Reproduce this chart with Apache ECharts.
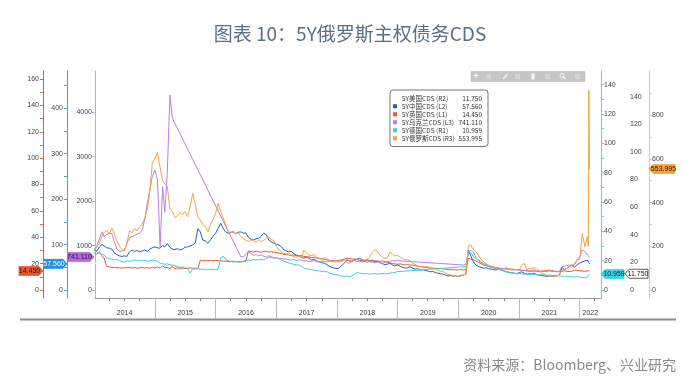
<!DOCTYPE html>
<html>
<head>
<meta charset="utf-8">
<script src="https://cdn.jsdelivr.net/npm/echarts@6.0.0/dist/echarts.min.js"></script>
<style>
html,body{margin:0;padding:0;background:#ffffff;}
#chart{width:700px;height:386px;}
</style>
</head>
<body>
<div id="chart"></div>
<script>
const _ = null;

// ---------- categories (semi-monthly observation dates) ----------
const dates = [];
for (let y = 2014; y <= 2022; y++) {
  for (let m = 1; m <= 12; m++) {
    if (y === 2022 && m > 2) break;
    const mm = String(m).padStart(2, '0');
    dates.push(y + '-' + mm + '-01', y + '-' + mm + '-16');
  }
}
dates.push('2022-02-22', '2022-02-25', '2022-03-01');

// ---------- series values ----------
const usVals = [
  20,19,18,19,18,17,18,17,16,17,16,17,16,17,18,17,18,17,18,19,18,19,20,19,
  19,18,19,18,17,18,17,18,17,18,19,18,19,20,19,20,21,22,21,20,21,22,21,22,
  22,23,24,23,22,23,22,21,22,23,22,24,25,24,25,26,25,26,27,26,27,28,27,26,
  26,25,27,26,25,26,24,25,26,27,28,27,26,25,24,23,24,23,22,21,20,21,20,19,
  19,18,17,18,17,16,17,16,17,18,17,18,17,16,17,18,17,16,17,18,19,20,19,18,
  18,17,16,17,16,15,16,15,14,15,16,15,14,15,14,13,14,13,14,13,12,13,12,13,
  13,14,13,15,25,24,22,20,19,18,17,16,17,16,15,16,15,14,15,16,15,14,13,14,
  13,12,13,12,11,12,11,12,11,10,11,10,11,10,11,12,13,12,13,14,13,12,13,12,
  12,13,12,13,12.5,12,11.75
];
const chinaVals = [
  88,86,95,100,97,93,92,90,82,78,75,74,75,74,84,88,85,87,84,86,88,85,90,93,
  95,93,92,98,95,102,94,90,89,91,88,90,94,95,97,99,104,135,128,110,108,103,110,118,
  125,135,147,135,128,125,127,128,124,127,128,125,126,116,112,110,113,114,118,125,122,110,106,103,
  101,99,95,88,86,84,85,80,77,75,72,70,72,70,66,68,64,62,60,59,56,52,50,48,
  47,49,55,60,66,64,63,66,68,70,66,63,67,64,66,62,64,60,58,56,57,59,55,53,
  55,52,50,48,49,51,48,46,47,44,45,43,42,40,41,38,37,36,35,33,31,32,30,31,
  30,32,33,35,88,75,62,55,52,50,48,49,47,46,45,44,46,44,42,40,39,38,37,36,
  38,40,37,35,36,35,37,34,33,32,31,30,31,30,32,31,33,50,44,48,52,55,50,56,
  59,62,64,66,63,60,57.56
];
const ukVals = [
  28,27,29,26,24,18,17.5,17,17.2,16.8,17,16.5,17,16.8,17.2,16.6,17,16.4,16.8,17.2,16.6,17,16.5,17,
  16.8,17.5,16.5,18.5,16.8,17,16.4,17.8,16.2,16.8,16.4,16.6,16.2,16.5,16.8,16.4,16.6,16.2,22.7,22.2,22.5,22,22.4,22.2,
  22.5,22,22.3,21.8,22,21.6,21.5,21.8,21.4,21.6,21.3,21.5,21.8,29.5,29.2,28.8,29.3,29,28.6,29.2,29.4,28.8,29,28.5,
  28.5,28,27.5,27,26.8,26.5,26.2,26.6,26,25.8,26.2,25.5,25.3,25,24.6,24.8,24.2,23.8,23.5,23.2,22.8,22.5,22.2,22,
  22,22.5,23,23.5,24,23.8,23.5,23.2,23,22.5,22.2,22,22.3,21.8,22,22.2,21.6,21.8,22,21.5,21,20.5,20,19.8,
  19.5,19.8,19.2,19,19.3,18.8,19,18.5,18,17.7,17.4,17.2,17,16.8,16.6,16.4,16.5,16.2,16,15.8,15.6,15.4,15.5,15.2,
  15.3,15.5,15.2,15.6,24,23.5,23,22,21,20,19,18.5,18,17.7,17.5,17,16.6,16.2,16,16.2,16,15.8,15.6,15.5,
  15.2,15,14.8,14.6,14.4,14.2,14.4,14.2,14,14.3,14.6,14.8,15,14.6,14.3,14.1,14,14.2,14.5,14.2,14,14.3,14.8,15,
  14.6,14.4,14.2,14.5,14.8,15.5,14.45
];
const ukraineVals = [
  900,1000,1150,1313,1200,1250,1275,1275,1088,930,860,880,900,1050,1180,1200,1230,1260,1275,1350,1600,1950,2250,2550,
  2700,2476,976,2325,1750,2625,4389,3863,_,_,_,_,_,_,_,_,_,_,_,_,_,_,_,_,
  _,_,_,_,_,_,_,_,_,_,750,750,800,860,820,780,800,770,790,760,740,770,750,730,
  720,700,710,690,700,680,670,690,660,680,670,650,660,640,650,660,640,630,650,640,630,650,640,660,
  650,640,660,670,675,660,650,665,640,650,630,645,620,640,625,610,630,615,600,620,640,650,660,655,
  660,_,_,_,_,_,_,_,_,_,_,_,_,_,_,_,_,_,_,_,_,_,_,_,
  _,_,563,580,863,840,750,712,680,637,600,562,540,520,500,487,490,480,487,470,460,455,450,460,
  450,440,445,430,420,435,450,440,425,415,420,412,430,420,415,410,420,525,540,550,562,555,570,680,
  750,900,870,788,800,780,741.11
];
const germanyVals = [
  27,26,25,24.5,24,22,21.5,21,20.5,21,20,19.5,19,20,19.5,20,20.5,20,19.8,20.2,20,19.6,20,20.3,
  20,19.5,18.2,18,17.5,17.8,17.2,17,16.5,16,15.5,15.8,15,14.8,11.5,14.5,14.2,14.6,14,14.3,13.8,14,14.2,14,
  14,14.2,22,23,21,20,19.5,19,19.5,19,19.2,19.6,20,20.5,20.2,20.8,20.4,20.6,21,20.5,21.5,22,22.2,21.8,
  22,21.5,20.5,19.5,19,18.5,18,17.5,17.2,17,16,15,14.5,14.2,13.8,13.5,13.2,13,12.8,12.5,12.5,11.5,11,10.5,
  10.2,9.8,9.5,9.3,9.5,9.2,9.8,10.5,12,11.5,11.2,11,11.2,10.8,11,11.2,10.9,11,11.3,11,11.2,11.5,11.8,12,
  12.5,_,_,_,_,_,_,_,_,_,_,_,_,_,_,_,_,_,_,_,_,_,_,_,
  _,_,_,16,26,27,26,22,20,19,17.5,17,16,15.5,15,14.5,14,13.7,13,12.5,12,11.6,11.4,11,
  11.2,11,10.8,11,10.6,10.5,10.8,10.4,10.2,10.5,10.3,10,10.2,10,9.8,10,9.6,9.5,9.2,9.4,9,9.2,8.8,9,
  8.8,8.5,8.3,8.6,9.2,10.5,10.959
];
const russiaVals = [
  190,195,215,245,262,274,255,282,260,225,200,185,178,215,270,262,280,270,290,300,330,370,450,580,
  600,628,560,500,485,475,370,360,330,340,355,345,360,335,380,442,390,335,320,300,290,266,300,320,
  350,396,360,330,300,268,262,270,258,262,244,235,228,222,230,225,218,228,222,226,238,242,232,225,
  200,183,175,168,165,170,160,152,150,155,150,183,170,160,158,162,150,145,142,148,145,135,130,128,
  130,128,132,135,125,122,130,145,140,138,142,137,140,150,172,183,178,160,150,145,148,175,162,155,
  160,150,145,137,138,135,122,118,110,107,108,105,107,102,99,95,90,86,84,78,72,70,65,62,
  62,65,68,75,200,206,185,175,160,140,130,120,114,110,105,100,95,92,98,102,96,92,95,91,
  92,114,122,92,99,97,102,99,88,76,72,68,65,63,61,64,70,91,95,100,107,104,122,137,
  140,259,198,244,200,914,553.995
];

// ---------- tick labels ----------
const yearLabels = ['2014','2015','2016','2017','2018','2019','2020','2021','2022'];
const l1Ticks = [0,20,40,60,80,100,120,140,160];
const l2Ticks = [0,100,200,300,400];
const l3Ticks = [0,1000,2000,3000,4000];
const r1Ticks = [0,20,40,60,80,100,120,140];
const r2Ticks = [0,20,40,60,80,100,120,140];
const r3Ticks = [0,200,400,600,800];

// ---------- layout helpers ----------
const ts = (y, m, d) => new Date(y, m - 1, d).getTime();
const parseDate = s => { const p = s.split('-').map(Number); return ts(p[0], p[1], p[2]); };
const X_MIN = ts(2014, 1, 5), X_MAX = ts(2022, 5, 9);
const yearLabelPos = yearLabels.map(y => (y === '2022' ? ts(2022, 3, 6) : ts(+y, 7, 2)));
const yearStarts = yearLabels.slice(1).map(y => ts(+y, 1, 1));
const quarterTicks = [];
yearLabels.forEach(y => { [1, 4, 7, 10].forEach(m => { const t = ts(+y, m, 1); if (t > X_MIN && t < X_MAX) quarterTicks.push(t); }); });
const mids = (arr, maxV) => { const st = arr[1] - arr[0]; const out = []; for (let v = arr[0] + st / 2; v < maxV; v += st) out.push(v); return out; };
const yearOf = v => String(new Date(v).getFullYear());

const FONT = 'Liberation Sans';
function yAx(pos, offset, min, max, labels, minors, color, showLine, margin) {
  return {
    type: 'value', position: pos, offset: offset, min: min, max: max,
    splitLine: { show: false },
    axisLine: { show: showLine, onZero: false, lineStyle: { color: color, width: 1 } },
    axisTick: { show: showLine, length: 3, customValues: labels.concat(minors), lineStyle: { color: color } },
    axisLabel: { customValues: labels, formatter: v => String(v), fontSize: 7, color: '#444', margin: margin, fontFamily: FONT }
  };
}

const defs = [
  { name: '5Y美国CDS (R2)', vals: usVals, color: '#ffffff', y: 4 },
  { name: '5Y中国CDS (L2)', vals: chinaVals, color: '#1f5fbf', y: 1 },
  { name: '5Y英国CDS (L1)', vals: ukVals, color: '#e4572e', y: 0 },
  { name: '5Y乌克兰CDS (L3)', vals: ukraineVals, color: '#b87fe6', y: 2 },
  { name: '5Y德国CDS (R1)', vals: germanyVals, color: '#3ccfdc', y: 3 },
  { name: '5Y俄罗斯CDS (R3)', vals: russiaVals, color: '#eea53c', y: 5 }
];
const lastStr = {};
defs.forEach(d => { lastStr[d.name] = d.vals[d.vals.length - 1].toFixed(3); });
const xVals = dates.map(parseDate);

const chart = echarts.init(document.getElementById('chart'));
const option = {
  animation: false,
  backgroundColor: '#ffffff',
  title: [
    { text: '图表 10：5Y俄罗斯主权债务CDS', left: 'center', top: 19,
      textStyle: { fontSize: 19, fontWeight: 'normal', color: '#5b6e88', fontFamily: 'Noto Sans CJK SC' } },
    { text: '资料来源：Bloomberg、兴业研究', right: 19, top: 353,
      textStyle: { fontSize: 14, fontWeight: 'normal', color: '#8a8a8a', fontFamily: 'Noto Sans CJK SC' } }
  ],
  legend: {
    orient: 'vertical', left: 390, top: 90,
    itemWidth: 4, itemHeight: 4, itemGap: 1.5, icon: 'rect',
    backgroundColor: '#ffffff', borderColor: '#777777', borderWidth: 1, borderRadius: 3,
    padding: [5, 6, 5, 3], selectedMode: false,
    data: defs.map(d => d.name),
    formatter: name => '{n|' + name + '}{v|' + lastStr[name] + '}',
    textStyle: {
      fontSize: 6.5, color: '#333', fontFamily: 'Noto Sans CJK SC',
      rich: {
        n: { width: 54, fontSize: 6.5, lineHeight: 7.3, color: '#333', fontFamily: 'Noto Sans CJK SC' },
        v: { width: 26, align: 'right', fontSize: 6.5, lineHeight: 7.3, color: '#333', fontFamily: 'Noto Sans CJK SC' }
      }
    }
  },
  grid: { left: 95, right: 99, top: 71, bottom: 88 },
  xAxis: [
    { type: 'value', min: X_MIN, max: X_MAX, position: 'bottom',
      splitLine: { show: false },
      axisLine: { onZero: false, lineStyle: { color: '#999999', width: 1 } },
      axisTick: { length: 3, customValues: quarterTicks, lineStyle: { color: '#888888' } },
      axisLabel: { customValues: yearLabelPos, formatter: yearOf,
        fontSize: 7, color: '#333', margin: 12, fontFamily: FONT } },
    { type: 'value', min: X_MIN, max: X_MAX, position: 'bottom',
      splitLine: { show: false },
      axisLine: { show: false, onZero: false },
      axisTick: { length: 20, customValues: yearStarts, lineStyle: { color: '#bbbbbb' } },
      axisLabel: { show: false } }
  ],
  yAxis: [
    yAx('left', 52, -6.07, 166.07, l1Ticks, mids(l1Ticks, 166), '#e0643a', true, 4),
    yAx('left', 28, -17.6, 482.1, l2Ticks, mids(l2Ticks, 482), '#5a9ad8', true, 4),
    yAx('left', 0, -180, 4930, l3Ticks, [], '#c9a3ea', true, 3),
    yAx('right', 0, -5.45, 149.3, r1Ticks, mids(r1Ticks, 149), '#58d6e2', true, 3),
    yAx('right', 26, -5.79, 158.6, r2Ticks, [], '#444444', false, 3),
    yAx('right', 48, -36.6, 1002, r3Ticks, mids(r3Ticks, 1000), '#e6c98e', true, 3)
  ],
  series: defs.map((d, i) => ({
    name: d.name, type: 'line', xAxisIndex: 0, yAxisIndex: d.y,
    data: xVals.map((t, k) => [t, d.vals[k]]),
    showSymbol: false, symbol: 'none', connectNulls: true, silent: true,
    color: d.color, itemStyle: { color: d.color },
    lineStyle: { width: 1, color: d.color },
    emphasis: { disabled: true }, z: 2 + i
  }))
};
chart.setOption(option);

// ---------- decorations: bottom rule, toolbar, last-value tags ----------
const g = [];
g.push({ type: 'line', silent: true, z: 50, shape: { x1: 20, y1: 319.5, x2: 676, y2: 319.5 }, style: { stroke: '#8c8c8c', lineWidth: 2 } });
g.push({ type: 'rect', silent: true, z: 50, shape: { x: 471, y: 71.5, width: 114, height: 10 }, style: { fill: '#c6c6c6', stroke: '#b5b5b5', lineWidth: 0.5 } });
[486, 515, 545, 575].forEach(x => g.push({ type: 'rect', silent: true, z: 51, shape: { x: x, y: 74, width: 5, height: 5 }, style: { fill: '#d4d4d4' } }));
g.push({ type: 'text', silent: true, z: 51, x: 476, y: 76.5, style: { text: '+', fill: '#f6f6f6', font: 'bold 9px "Liberation Sans"', align: 'center', verticalAlign: 'middle' } });
g.push({ type: 'line', silent: true, z: 51, shape: { x1: 503, y1: 79, x2: 507.5, y2: 74 }, style: { stroke: '#f6f6f6', lineWidth: 1.5 } });
g.push({ type: 'rect', silent: true, z: 51, shape: { x: 531.5, y: 73.5, width: 3, height: 6 }, style: { fill: '#f6f6f6' } });
g.push({ type: 'circle', silent: true, z: 51, shape: { cx: 562, cy: 75.5, r: 2 }, style: { fill: 'none', stroke: '#f6f6f6', lineWidth: 1 } });
g.push({ type: 'line', silent: true, z: 51, shape: { x1: 563.5, y1: 77, x2: 565.5, y2: 79 }, style: { stroke: '#f6f6f6', lineWidth: 1.2 } });

const tagDefs = [
  { axis: 0, vals: ukVals, side: 'L', x0: 19, tip: 43, fill: '#e9582b', color: '#1a1a1a' },
  { axis: 1, vals: chinaVals, side: 'L', x0: 44, tip: 67, fill: '#2a8ae0', color: '#ffffff' },
  { axis: 2, vals: ukraineVals, side: 'L', x0: 68, tip: 94, fill: '#b46ae2', color: '#1a1a1a' },
  { axis: 3, vals: germanyVals, side: 'R', tip: 601, x1: 624, fill: '#38d4e4', color: '#1a1a1a' },
  { axis: 4, vals: usVals, side: 'R', tip: 625, x1: 648, fill: '#ffffff', stroke: '#333333', color: '#1a1a1a' },
  { axis: 5, vals: russiaVals, side: 'R', tip: 649, x1: 675, fill: '#f2a23a', color: '#1a1a1a' }
];
tagDefs.forEach(t => {
  const v = t.vals[t.vals.length - 1];
  const y = chart.convertToPixel({ yAxisIndex: t.axis }, v);
  const h = 4.5, a = 4;
  let pts, cx;
  if (t.side === 'L') {
    pts = [[t.x0, y - h], [t.tip - a, y - h], [t.tip, y], [t.tip - a, y + h], [t.x0, y + h]];
    cx = (t.x0 + t.tip - a) / 2 + 0.5;
  } else {
    pts = [[t.tip, y], [t.tip + a, y - h], [t.x1, y - h], [t.x1, y + h], [t.tip + a, y + h]];
    cx = (t.tip + a + t.x1) / 2 - 0.5;
  }
  g.push({ type: 'polygon', silent: true, z: 100, shape: { points: pts }, style: { fill: t.fill, stroke: t.stroke || t.fill, lineWidth: 0.8 } });
  g.push({ type: 'text', silent: true, z: 101, x: cx, y: y, style: { text: v.toFixed(3), fill: t.color, font: '7px "Liberation Sans"', align: 'center', verticalAlign: 'middle' } });
});
chart.setOption({ graphic: { elements: g } });
</script>
</body>
</html>
